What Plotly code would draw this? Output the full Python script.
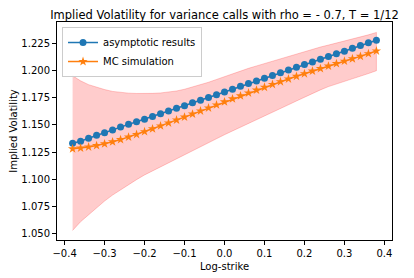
import plotly.graph_objects as go

log_strike = [-0.38, -0.36, -0.34, -0.32, -0.30, -0.28, -0.26, -0.24, -0.22, -0.20,
              -0.18, -0.16, -0.14, -0.12, -0.10, -0.08, -0.06, -0.04, -0.02, 0.00,
              0.02, 0.04, 0.06, 0.08, 0.10, 0.12, 0.14, 0.16, 0.18, 0.20,
              0.22, 0.24, 0.26, 0.28, 0.30, 0.32, 0.34, 0.36, 0.38]

asymptotic = [1.1331, 1.1350, 1.1377, 1.1404, 1.1428, 1.1453, 1.1481, 1.1505, 1.1529, 1.1553,
              1.1577, 1.1603, 1.1628, 1.1652, 1.1677, 1.1703, 1.1727, 1.1752, 1.1778, 1.1803,
              1.1828, 1.1855, 1.1880, 1.1904, 1.1929, 1.1955, 1.1980, 1.2004, 1.2029, 1.2055,
              1.2078, 1.2103, 1.2130, 1.2155, 1.2178, 1.2204, 1.2230, 1.2255, 1.2279]

mc_sim = [1.1280, 1.1287, 1.1297, 1.1310, 1.1326, 1.1344, 1.1365, 1.1388, 1.1412, 1.1438,
          1.1464, 1.1491, 1.1518, 1.1545, 1.1572, 1.1600, 1.1628, 1.1656, 1.1684, 1.1712,
          1.1740, 1.1767, 1.1794, 1.1820, 1.1846, 1.1872, 1.1897, 1.1922, 1.1947, 1.1971,
          1.1995, 1.2018, 1.2041, 1.2064, 1.2086, 1.2108, 1.2130, 1.2155, 1.2180]

band_upper = [1.1952, 1.1905, 1.1870, 1.1845, 1.1825, 1.1808, 1.1798, 1.1792, 1.1789, 1.1788,
              1.1790, 1.1794, 1.1802, 1.1812, 1.1828, 1.1848, 1.1870, 1.1892, 1.1918, 1.1945,
              1.1970, 1.1995, 1.2020, 1.2042, 1.2064, 1.2086, 1.2108, 1.2130, 1.2152, 1.2175,
              1.2198, 1.2216, 1.2234, 1.2252, 1.2270, 1.2290, 1.2308, 1.2328, 1.2350]

band_lower = [1.0530, 1.0610, 1.0672, 1.0735, 1.0800, 1.0855, 1.0905, 1.0952, 1.0997, 1.1040,
              1.1080, 1.1120, 1.1157, 1.1195, 1.1230, 1.1265, 1.1300, 1.1336, 1.1373, 1.1410,
              1.1447, 1.1483, 1.1518, 1.1552, 1.1585, 1.1618, 1.1651, 1.1685, 1.1720, 1.1755,
              1.1790, 1.1822, 1.1852, 1.1878, 1.1902, 1.1925, 1.1948, 1.1972, 1.1998]

x_ticks = [-0.4, -0.3, -0.2, -0.1, 0.0, 0.1, 0.2, 0.3, 0.4]
x_tick_labels = ["\u22120.4", "\u22120.3", "\u22120.2", "\u22120.1", "0.0", "0.1", "0.2", "0.3", "0.4"]
y_ticks = [1.050, 1.075, 1.100, 1.125, 1.150, 1.175, 1.200, 1.225]
y_tick_labels = ["1.050", "1.075", "1.100", "1.125", "1.150", "1.175", "1.200", "1.225"]

# page body has an 8px default margin; the figure is sized so it fills the 414x278 window
OFF = 8
W, H = 414 - OFF, 278 - OFF

fig = go.Figure()

fig.add_trace(go.Scatter(
    x=log_strike + log_strike[::-1],
    y=band_upper + band_lower[::-1],
    fill="toself",
    fillcolor="rgba(255,0,0,0.2)",
    line=dict(color="rgba(255,0,0,0.2)", width=1),
    mode="lines",
    showlegend=False,
    hoverinfo="skip",
))

fig.add_trace(go.Scatter(
    x=log_strike, y=asymptotic, name="asymptotic results",
    mode="lines+markers",
    line=dict(color="#1f77b4", width=1.5),
    marker=dict(symbol="circle", size=7, color="#1f77b4"),
))

fig.add_trace(go.Scatter(
    x=log_strike, y=mc_sim, name="MC simulation",
    mode="lines+markers",
    line=dict(color="#ff7f0e", width=1.5),
    marker=dict(symbol="star", size=7, color="#ff7f0e", line=dict(width=0)),
))

axis_common = dict(
    showline=True, mirror=True, linecolor="black", linewidth=1,
    ticks="outside", ticklen=4, tickwidth=1, tickcolor="black",
    showgrid=False, zeroline=False, automargin=False,
    tickfont=dict(family="DejaVu Sans", size=10, color="black"),
)

L, R, T, B = 57 - OFF, 22, 22 - OFF, 38

fig.update_layout(
    width=W, height=H,
    margin=dict(l=L, r=R, t=T, b=B, autoexpand=False),
    paper_bgcolor="white", plot_bgcolor="white",
    font=dict(family="DejaVu Sans", size=10, color="black"),
    title=dict(
        text="Implied Volatility for variance calls with rho = - 0.7, T = 1/12",
        font=dict(family="DejaVu Sans", size=11.5, color="black"),
        x=(L + (W - R)) / 2 / W, xanchor="center",
        y=1 - 3 / H, yanchor="top", pad=dict(t=0, b=0, l=0, r=0),
    ),
    xaxis=dict(
        range=[-0.419, 0.419],
        tickvals=x_ticks, ticktext=x_tick_labels,
        title=dict(text="Log-strike", font=dict(family="DejaVu Sans", size=10, color="black"), standoff=4),
        **axis_common,
    ),
    yaxis=dict(
        range=[1.0442, 1.2446],
        tickvals=y_ticks, ticktext=y_tick_labels,
        title=dict(text="Implied Volatility", font=dict(family="DejaVu Sans", size=10, color="black"), standoff=6),
        **axis_common,
    ),
    legend=dict(
        x=0.015, y=0.977, xanchor="left", yanchor="top",
        bgcolor="rgba(255,255,255,0.8)", bordercolor="#cccccc", borderwidth=1,
        font=dict(family="DejaVu Sans", size=10, color="black"),
        itemwidth=30, tracegroupgap=0,
    ),
    showlegend=True,
)

fig.write_html("out.html")
